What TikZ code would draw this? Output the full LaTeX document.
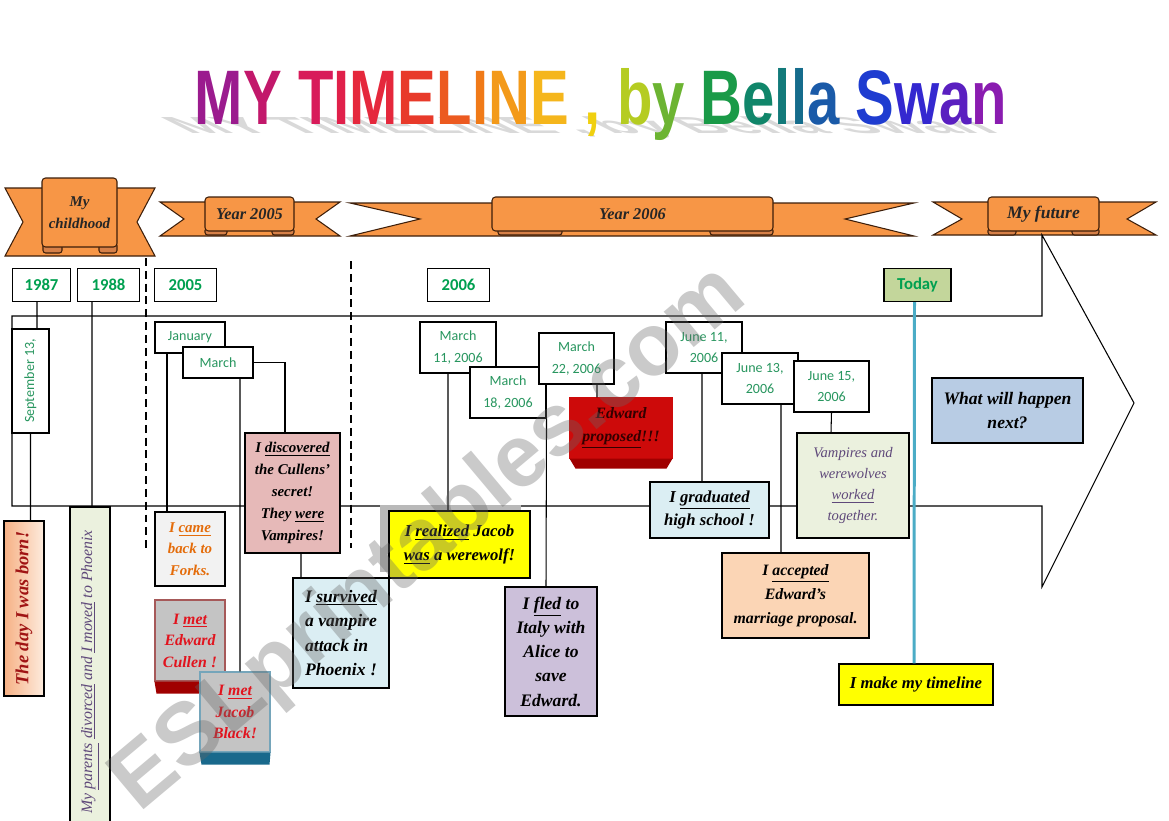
\documentclass[tikz,border=0pt]{standalone}
\usepackage{fontspec}
\setmainfont{Liberation Serif}
\newfontfamily\datefont{Carlito}
\newfontfamily\titlefont{Liberation Sans}
\usetikzlibrary{calc,shadows}
\definecolor{grn}{RGB}{40,150,95}
\definecolor{ygrn}{RGB}{0,160,80}
\definecolor{orng}{RGB}{247,150,70}
\definecolor{fld}{RGB}{214,128,72}
\definecolor{brn}{RGB}{60,30,10}
\definecolor{lblue}{RGB}{219,238,243}
\definecolor{lgrn}{RGB}{235,241,222}
\definecolor{cpink}{RGB}{230,185,184}
\definecolor{lilac}{RGB}{204,192,218}
\definecolor{peach}{RGB}{251,213,181}
\definecolor{sky}{RGB}{184,204,228}
\definecolor{ylw}{RGB}{255,255,0}
\definecolor{tdy}{RGB}{195,214,155}
\definecolor{teal2}{RGB}{75,172,198}
\definecolor{pgray}{RGB}{196,196,196}
\definecolor{mred}{RGB}{225,20,30}
\definecolor{dred}{RGB}{160,0,0}
\definecolor{pred}{RGB}{205,10,10}
\definecolor{jblu}{RGB}{25,105,140}
\definecolor{plum}{RGB}{95,73,122}
\definecolor{ortx}{RGB}{228,108,10}
\definecolor{bornr}{RGB}{160,20,20}
\newcommand\evf[2]{\fontsize{#1}{#2}\selectfont\bfseries\itshape}
\tikzset{
  every picture/.style={line width=0.6pt},
  sz/.style 2 args={minimum width=#1*0.2mm,minimum height=#2*0.2mm},
  yr/.style={draw,fill=white,inner sep=0pt,text=ygrn,font=\datefont\bfseries\fontsize{9.5}{11}\selectfont},
  dt/.style={draw,fill=white,inner sep=0pt,align=center,text=grn,font=\datefont\fontsize{8}{12}\selectfont},
  ev/.style={draw,inner sep=0pt,align=center},
  band/.style={draw=brn,fill=orng},
  fold/.style={draw=brn,fill=fld,rounded corners=1.5pt},
  pan/.style={draw=brn,fill=orng,rounded corners=2pt,inner sep=0pt,align=center,text=black!85},
  ttl/.style={anchor=base,font=\titlefont\bfseries\fontsize{44}{44}\selectfont,xscale=0.75},
}

\begin{document}
\begin{tikzpicture}[x=0.2mm,y=-0.2mm]
\useasboundingbox (0,0) rectangle (1169,821);
\node[ttl,text=gray!30,yscale=0.3,xslant=-0.8] (tshd) at (595,134) {MY TIMELINE , by Bella Swan};
\node[ttl] (title) at (601,125) {\textcolor[RGB]{155,27,142}{M}\textcolor[RGB]{194,24,107}{Y} \textcolor[RGB]{216,27,90}{T}\textcolor[RGB]{224,32,74}{I}\textcolor[RGB]{229,40,60}{M}\textcolor[RGB]{232,58,42}{E}\textcolor[RGB]{236,90,32}{L}\textcolor[RGB]{240,122,24}{I}\textcolor[RGB]{243,154,26}{N}\textcolor[RGB]{245,182,28}{E} \textcolor[RGB]{240,208,16}{,} \textcolor[RGB]{181,204,34}{b}\textcolor[RGB]{108,180,50}{y} \textcolor[RGB]{26,154,72}{B}\textcolor[RGB]{16,134,106}{e}\textcolor[RGB]{18,122,122}{l}\textcolor[RGB]{21,108,140}{l}\textcolor[RGB]{26,90,168}{a} \textcolor[RGB]{30,60,208}{S}\textcolor[RGB]{52,40,208}{w}\textcolor[RGB]{90,31,192}{a}\textcolor[RGB]{138,28,176}{n}};

\draw[band] (5,188) -- (155,188) -- (137,222) -- (155,256) -- (5,256) -- (23,222) -- cycle;
\draw[fold] (43,243) rectangle (62,253); \draw[fold] (99,243) rectangle (117,253);
\node[pan,sz={75}{69},font=\evf{8.5}{12.5}] (chld) at (79.5,212.5) {My\\childhood};
\draw[band] (160,202) -- (340,202) -- (316,219) -- (340,236) -- (160,236) -- (184,219) -- cycle;
\draw[fold] (205,228) rectangle (227,235); \draw[fold] (272,228) rectangle (294,235);
\node[pan,sz={89}{34},font=\evf{9.3}{11}] (yr05) at (249.5,214) {Year 2005};
\draw[band] (350,203) -- (914,203) -- (845,219) -- (914,236) -- (350,236) -- (420,219) -- cycle;
\draw[fold] (498,228) rectangle (562,235); \draw[fold] (710,228) rectangle (773,235);
\node[pan,sz={281}{34},font=\evf{9.3}{11}] (yr06) at (632.5,214) {Year 2006};
\draw[band] (933,202) -- (1156,202) -- (1127,219) -- (1156,235) -- (933,235) -- (962,219) -- cycle;
\draw[fold] (988,228) rectangle (1016,235); \draw[fold] (1072,228) rectangle (1099,235);
\node[pan,sz={111}{34},font=\evf{10}{11}] (fut) at (1043.5,214) {My future};

\draw (12,316) -- (1042,316) -- (1042,235) -- (1134,403) -- (1042,587) -- (1042,506) -- (12,506) -- cycle;
\draw[dash pattern=on 4.5pt off 2.8pt] (146,258) -- (146,548);
\draw[line width=1.4pt,dash pattern=on 4.5pt off 2.8pt] (351,261) -- (351,548);

\node[yr,sz={58}{33}] (y87) at (41.5,285) {1987};
\node[yr,sz={62}{33}] (y88) at (108.5,285) {1988};
\node[yr,sz={62}{33}] (y05) at (185.5,285) {2005};
\node[yr,sz={62}{33}] (y06) at (458.5,285) {2006};
\node[yr,sz={67}{33},fill=tdy] (today) at (917.5,285) {Today};

\node[dt,sz={37}{104}] (sep) at (30.5,381) {\rotatebox{90}{September 13,}};
\node[dt,sz={70}{31}] (jan) at (190,337.5) {January};
\node[dt,sz={70}{31}] (mar) at (218,362.5) {March};
\node[dt,sz={76}{51}] (m11) at (458,347.5) {March\\11, 2006};
\node[dt,sz={76}{51}] (m18) at (508,392.5) {March\\18, 2006};
\node[dt,sz={75}{51}] (m22) at (576.5,358.5) {March\\22, 2006};
\node[dt,sz={76}{51}] (j11) at (704,347.5) {June 11,\\2006};
\node[dt,sz={76}{51}] (j13) at (760,378.5) {June 13,\\2006};
\node[dt,sz={75}{51}] (j15) at (831.5,386.5) {June 15,\\2006};

\node[ev,sz={40}{175},left color={rgb,255:red,246;green,176;blue,132},right color={rgb,255:red,253;green,236;blue,222},text=bornr,font=\evf{10.5}{12}] (born) at (24,608.5) {\rotatebox{90}{The day I was born!}};
\node[ev,sz={40}{330},fill=lgrn,text=plum,font=\itshape\fontsize{9}{11}\selectfont] (par) at (90,672) {\rotatebox{90}{My \underline{parents} \underline{divorced} and \underline{I moved} to Phoenix}};
\node[ev,sz={70}{74},fill=gray!10,text=ortx,font=\evf{8.5}{12.2}] (came) at (190,549) {I \underline{came}\\back to\\Forks.};
\node[ev,sz={70}{81},fill=pgray,draw=gray!70!red,text=mred,font=\evf{9}{12.2}] (emet) at (190,640.5) {I \underline{met}\\Edward\\Cullen !};
\fill[dred] (emet.south west) -- (emet.south east) -- ($(emet.south east)+(-1,12)$) -- ($(emet.south west)+(2,12)$) -- cycle;
\node[ev,sz={70}{80},fill=pgray,draw=jblu!60,text=mred,font=\evf{9}{12.2}] (jmet) at (235,712) {I \underline{met}\\Jacob\\Black!};
\fill[jblu] (jmet.south west) -- (jmet.south east) -- ($(jmet.south east)+(-1,12)$) -- ($(jmet.south west)+(2,12)$) -- cycle;
\node[ev,sz={95}{120},fill=cpink,font=\evf{8.5}{12.5}] (cul) at (292.5,493) {I \underline{discovered}\\the Cullens'\\secret!\\They \underline{were}\\Vampires!};
\node[ev,sz={96}{110},fill=lblue,align=left,font=\evf{10}{14}] (surv) at (341,633) {I \underline{survived}\\a vampire\\attack in\\Phoenix !};
\node[ev,sz={141}{67},fill=ylw,font=\evf{9.5}{13.6},drop shadow={shadow xshift=-1.8mm,shadow yshift=1.2mm,fill=gray!55,opacity=1}] (real) at (459.5,544.5) {I \underline{realized} Jacob\\\underline{was} a werewolf!};
\node[ev,sz={92}{129},fill=lilac,font=\evf{10}{13.8}] (fled) at (551,651.5) {I \underline{fled} to\\Italy with\\Alice to\\save\\Edward.};
\node[ev,sz={102}{60},fill=pred,draw=pred,text=black!80!red,font=\evf{9}{13}] (prop) at (621,428) {Edward\\\underline{proposed}!!!};
\fill[dred] (prop.south west) -- (prop.south east) -- ($(prop.south east)+(-6,10)$) -- ($(prop.south west)+(6,10)$) -- cycle;
\node[ev,sz={119}{56},fill=lblue,font=\evf{9.5}{13.6}] (grad) at (709.5,510) {I \underline{graduated}\\high school !};
\node[ev,sz={147}{85},fill=peach,font=\evf{9}{13.6}] (acc) at (795.5,595.5) {I \underline{accepted}\\Edward's\\marriage proposal.};
\node[ev,sz={112}{105},fill=lgrn,text=plum,font=\itshape\fontsize{8.3}{12}\selectfont] (vamp) at (853,485.5) {Vampires and\\werewolves\\\underline{worked}\\together.};
\node[ev,sz={154}{41},fill=ylw,font=\evf{9.5}{12}] (tml) at (916,684.5) {I make my timeline};
\node[ev,sz={151}{65},fill=sky,font=\evf{10}{14}] (next) at (1007.5,410.5) {What will happen\\next?};

\draw ([xshift=-0.9mm]y87.south) -- ([xshift=1.3mm]sep.north);
\draw (sep.south) -- ([xshift=1.3mm]born.north);
\draw ([xshift=-3.3mm]y88.south) -- ([xshift=0.4mm]par.north);
\draw ([xshift=-4.6mm]jan.south) -- ([xshift=-4.6mm]came.north);
\draw ([xshift=4.4mm]mar.south) -- ([xshift=1mm]jmet.north);
\draw (mar.east) -| ([xshift=-1.5mm]cul.north);
\draw ([xshift=1.7mm]cul.south) -- ([xshift=-8mm]surv.north);
\draw ([xshift=-2mm]m11.south) -- ([xshift=-2.3mm]real.north);
\draw (m18.south east) -- ([xshift=-1mm]fled.north);
\draw ([xshift=4.1mm]m22.south) -- ([xshift=-4.8mm]prop.north);
\draw ([xshift=-0.4mm]j11.south) -- ([xshift=-1.5mm]grad.north);
\draw ([xshift=4.2mm]j13.south) -- ([xshift=-2.9mm]acc.north);
\draw (j15.south) -- ([xshift=-4.4mm]vamp.north);
\draw[teal2,line width=1.7pt] ([xshift=-0.6mm]today.south) -- ([xshift=-0.4mm]tml.north);

\node[rotate=40,text=black!60,text opacity=0.35,font=\titlefont\bfseries\fontsize{50}{50}\selectfont] (wm) at (430,540) {ESLprintables.com};
\end{tikzpicture}
\end{document}
